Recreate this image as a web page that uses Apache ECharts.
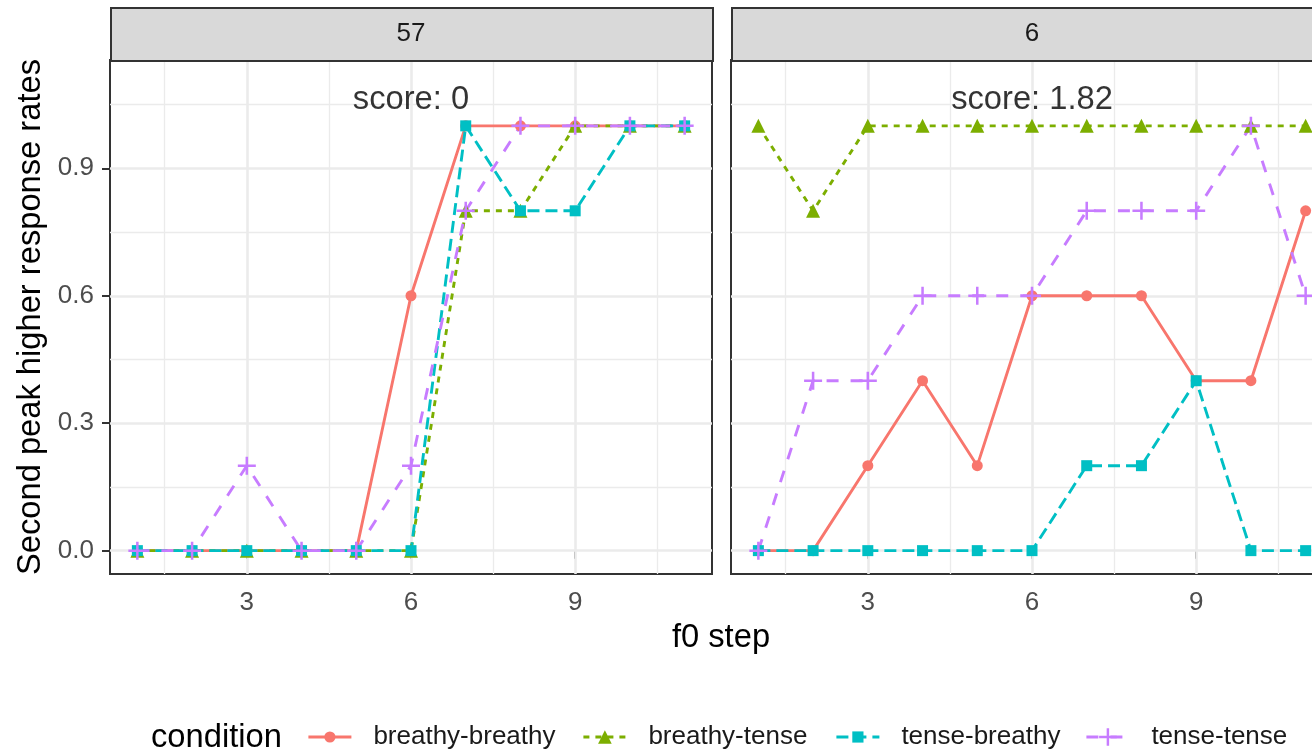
<!DOCTYPE html>
<html>
<head>
<meta charset="utf-8">
<script src="https://cdn.jsdelivr.net/npm/echarts@6/dist/echarts.min.js"></script>
<style>html,body{margin:0;padding:0;background:#fff;overflow:hidden;}#c{width:1340px;height:751px;}</style>
</head>
<body>
<div id="c"></div>
<script>
// ---- data ----
const steps = [1, 2, 3, 4, 5, 6, 7, 8, 9, 10, 11];
const panels = ['57', '6'];
const scores = ['score: 0', 'score: 1.82'];
const conditions = ['breathy-breathy', 'breathy-tense', 'tense-breathy', 'tense-tense'];
// panel "57"
const p57_breathyBreathy = [0, 0, 0, 0, 0, 0.6, 1, 1, 1, 1, 1];
const p57_breathyTense   = [0, 0, 0, 0, 0, 0, 0.8, 0.8, 1, 1, 1];
const p57_tenseBreathy   = [0, 0, 0, 0, 0, 0, 1, 0.8, 0.8, 1, 1];
const p57_tenseTense     = [0, 0, 0.2, 0, 0, 0.2, 0.8, 1, 1, 1, 1];
// panel "6"
const p6_breathyBreathy = [0, 0, 0.2, 0.4, 0.2, 0.6, 0.6, 0.6, 0.4, 0.4, 0.8];
const p6_breathyTense   = [1, 0.8, 1, 1, 1, 1, 1, 1, 1, 1, 1];
const p6_tenseBreathy   = [0, 0, 0, 0, 0, 0, 0.2, 0.2, 0.4, 0, 0];
const p6_tenseTense     = [0, 0.4, 0.4, 0.6, 0.6, 0.6, 0.8, 0.8, 0.8, 1, 0.6];
// ticks
const xTicks = [3, 6, 9];
const yTicks = [0, 0.3, 0.6, 0.9];
const xMinor = [1.5, 4.5, 7.5, 10.5];
const yMinor = [0.15, 0.45, 0.75, 1.05];
const scoreX = 6, scoreY = 1.06;

const panelData = [
  [p57_breathyBreathy, p57_breathyTense, p57_tenseBreathy, p57_tenseTense],
  [p6_breathyBreathy, p6_breathyTense, p6_tenseBreathy, p6_tenseTense]
];

// ---- styles ----
const FONT = "'Liberation Sans', Arial, Helvetica, sans-serif";
const colors = ['#F8766D', '#7CAE00', '#00BFC4', '#C77CFF'];
const dashes = ['solid', [6, 6], [12, 6], [12, 12]];
const PLUS = 'path://M0,8.6H20V11.4H0Z M8.6,0H11.4V20H8.6Z';
const symbols = ['circle', 'triangle', 'rect', PLUS];
const symSizes = [11, 14, 11, 18];
const legendH = [14, 17, 14, 22];
const legendLeft = [307, 582, 835, 1085];

const gridL = [110, 731], gridTop = 60, gridW = 602, gridH = 514;

const chart = echarts.init(document.getElementById('c'), null, {renderer: 'canvas'});

const grids = [], xAxes = [], yAxes = [], series = [];
for (let g = 0; g < 2; g++) {
  grids.push({left: gridL[g], top: gridTop, width: gridW, height: gridH, show: true,
    borderColor: '#333333', borderWidth: 2, backgroundColor: '#fff', containLabel: false});
  xAxes.push({type: 'value', gridIndex: g, min: 0.5, max: 11.5,
    axisLine: {show: false},
    axisTick: {show: true, customValues: xTicks, length: 8, lineStyle: {color: '#333333', width: 2}},
    axisLabel: {show: true, customValues: xTicks, margin: 16, fontSize: 26, color: '#4D4D4D', fontFamily: FONT},
    splitLine: {show: false}});
  yAxes.push({type: 'value', gridIndex: g, min: -0.055, max: 1.155,
    axisLine: {show: false},
    axisTick: {show: g === 0, customValues: yTicks, length: 8, lineStyle: {color: '#333333', width: 2}},
    axisLabel: {show: g === 0, customValues: yTicks, margin: 16, fontSize: 26, color: '#4D4D4D', fontFamily: FONT,
      formatter: v => v.toFixed(1)},
    splitLine: {show: false}});
  // gridlines
  const gl = [];
  xMinor.forEach(v => gl.push({xAxis: v, lineStyle: {color: '#EBEBEB', width: 1.3, type: 'solid'}}));
  yMinor.forEach(v => gl.push({yAxis: v, lineStyle: {color: '#EBEBEB', width: 1.3, type: 'solid'}}));
  xTicks.forEach(v => gl.push({xAxis: v, lineStyle: {color: '#EBEBEB', width: 2.6, type: 'solid'}}));
  yTicks.forEach(v => gl.push({yAxis: v, lineStyle: {color: '#EBEBEB', width: 2.6, type: 'solid'}}));
  series.push({type: 'line', name: 'grid' + g, xAxisIndex: g, yAxisIndex: g, data: [], z: 1, zlevel: 0, silent: true,
    markLine: {silent: true, symbol: ['none', 'none'], label: {show: false}, animation: false, data: gl}});
  // data series
  conditions.forEach((c, i) => {
    series.push({type: 'line', name: c, xAxisIndex: g, yAxisIndex: g, z: 3, zlevel: 1,
      data: steps.map((s, k) => [s, panelData[g][i][k]]),
      symbol: symbols[i], symbolSize: symSizes[i], showSymbol: true,
      lineStyle: {color: colors[i], width: 2.9, type: dashes[i]},
      itemStyle: {color: colors[i], borderWidth: 0},
      emphasis: {disabled: true}, animation: false, clip: true});
  });
  // score annotation
  series.push({type: 'scatter', name: 'score' + g, xAxisIndex: g, yAxisIndex: g, z: 4, zlevel: 1,
    data: [[scoreX, scoreY]], symbolSize: 1, itemStyle: {color: 'rgba(0,0,0,0)'},
    label: {show: true, position: 'inside', formatter: scores[g], fontSize: 32.7, color: '#000', fontFamily: FONT},
    silent: true, animation: false});
}

const legends = conditions.map((c, i) => ({
  data: [c], left: legendLeft[i], top: 737 - 13, padding: 0, selectedMode: false,
  itemWidth: 43, itemHeight: legendH[i], itemGap: 0,
  lineStyle: {width: 2.8},
  textStyle: {fontSize: 26, color: '#1A1A1A', fontFamily: FONT, padding: [0, 0, 0, 17]}
}));

const graphics = [];
for (let g = 0; g < 2; g++) {
  graphics.push({type: 'rect', left: gridL[g], top: 7,
    shape: {width: gridW, height: gridTop - 7}, style: {fill: '#D9D9D9', stroke: '#333333', lineWidth: 2}, z: 10});
  graphics.push({type: 'text', x: gridL[g] + gridW / 2, y: 33.5, z: 11,
    style: {text: panels[g], fontSize: 26, fill: '#1A1A1A', fontFamily: FONT, textAlign: 'center', textVerticalAlign: 'middle'}});
}
graphics.push({type: 'text', x: 31, y: 317, rotation: Math.PI / 2, z: 11,
  style: {text: 'Second peak higher response rates', fontSize: 32.7, fill: '#000', fontFamily: FONT, textAlign: 'center', textVerticalAlign: 'middle'}});
graphics.push({type: 'text', x: 721, y: 638, z: 11,
  style: {text: 'f0 step', fontSize: 32.7, fill: '#000', fontFamily: FONT, textAlign: 'center', textVerticalAlign: 'middle'}});
graphics.push({type: 'text', x: 151, y: 738, z: 11,
  style: {text: 'condition', fontSize: 32.7, fill: '#000', fontFamily: FONT, textAlign: 'left', textVerticalAlign: 'middle'}});

chart.setOption({
  animation: false,
  backgroundColor: '#fff',
  textStyle: {fontFamily: FONT},
  grid: grids, xAxis: xAxes, yAxis: yAxes, series: series,
  legend: legends, graphic: graphics
});
</script>
</body>
</html>
